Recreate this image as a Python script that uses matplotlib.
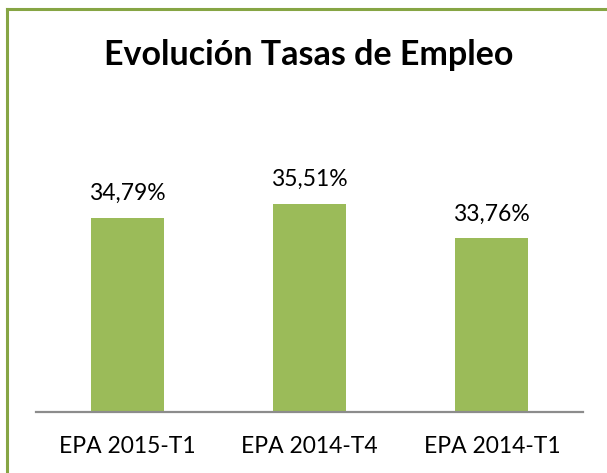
import matplotlib
matplotlib.use("Agg")
import matplotlib.pyplot as plt
from matplotlib.lines import Line2D

categories = ["EPA 2015-T1", "EPA 2014-T4", "EPA 2014-T1"]
values = [34.79, 35.51, 33.76]
labels = ["34,79%", "35,51%", "33,76%"]
title = "Evolución Tasas de Empleo"

plt.rcParams['font.family'] = ['Lato', 'DejaVu Sans']

W, H = 607, 473
fig = plt.figure(figsize=(W/100, H/100), dpi=100)
fig.patch.set_facecolor('white')

ax = fig.add_axes([36/W, (H-412)/H, (583-36)/W, (412-194)/H])
x = range(len(categories))
ax.bar(x, values, width=0.4, color='#9BBB59', bottom=0)
ax.set_ylim(25, 36)
ax.set_xlim(-0.5, 2.5)
for xi, v, lab in zip(x, values, labels):
    ax.annotate(lab, (xi, v), xytext=(0, 10), textcoords='offset points',
                ha='center', va='bottom', fontsize=16.5, color='black')
ax.set_xticks(list(x))
ax.set_xticklabels(categories, fontsize=16.5, color='black')
ax.tick_params(axis='x', length=0, pad=17)
ax.set_yticks([])
for s in ['top', 'right', 'left']:
    ax.spines[s].set_visible(False)
ax.spines['bottom'].set_color('#8C8C8C')
ax.spines['bottom'].set_linewidth(1.6)
ax.patch.set_alpha(0)

fig.text(309/W, 1 - 55/H, title, ha='center', va='center', fontsize=24.5,
         fontweight='bold', color='black')

# border (top and left visible)
border = '#86A544'
fig.add_artist(Line2D([7/W, 1.0], [1 - 9.5/H, 1 - 9.5/H], color=border, lw=2.2,
                      transform=fig.transFigure))
fig.add_artist(Line2D([7/W, 7/W], [0, 1 - 9.5/H], color=border, lw=2.2,
                      transform=fig.transFigure))

fig.savefig('out.png', dpi=100, facecolor='white')
